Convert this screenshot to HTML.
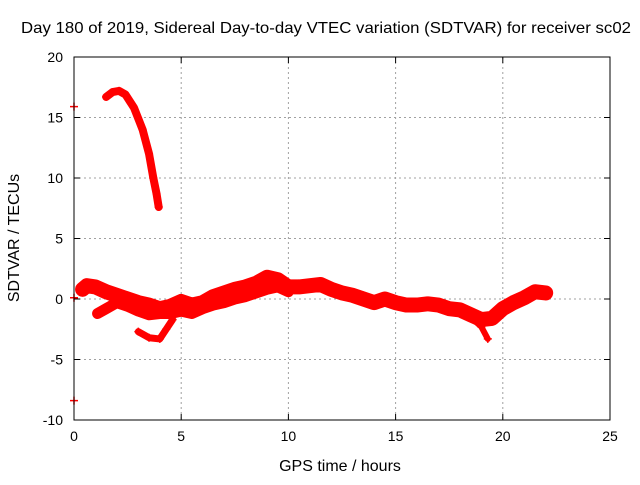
<!DOCTYPE html>
<html><head><meta charset="utf-8">
<style>
body{margin:0;background:#fff;width:640px;height:480px;overflow:hidden}
svg{font-family:"Liberation Sans",sans-serif;font-size:14px}
</style></head>
<body>
<svg id="chart" width="640" height="480">
<text x="326" y="33" text-anchor="middle" font-size="16" textLength="610" lengthAdjust="spacingAndGlyphs">Day 180 of 2019, Sidereal Day-to-day VTEC variation (SDTVAR) for receiver sc02</text>
<text x="340" y="471" text-anchor="middle" font-size="16">GPS time / hours</text>
<text transform="translate(19,238) rotate(-90)" text-anchor="middle" font-size="16">SDTVAR / TECUs</text>
<g id="grid"></g><g id="marks"></g><g id="axes"></g>
</svg>
<script>
const xTicks=[0,5,10,15,20,25];
const yTicks=[-10,-5,0,5,10,15,20];
const arcX=[1.5,1.8,2.1,2.4,2.8,3.2,3.5,3.7,3.85,3.95];
const arcY=[16.7,17.1,17.2,16.9,15.8,14,12,10,8.7,7.6];
const upperX=[0.4,0.6,1,1.5,2,2.5,3,3.5,4,4.5,5,5.5,6,6.5,7,7.5,8,8.5,9,9.5,10,10.5,11,11.5,12,12.5,13,13.5,14,14.5,15,15.5,16,16.5,17,17.5,18,18.5,19,19.5,20,20.5,21,21.5,22];
const upperY=[0.8,1.1,1,0.6,0.3,0,-0.3,-0.5,-0.8,-0.6,-0.2,-0.5,-0.3,0.2,0.5,0.8,1,1.3,1.8,1.6,1,1,1.1,1.2,0.8,0.5,0.3,0,-0.3,0,-0.3,-0.5,-0.5,-0.4,-0.5,-0.8,-0.9,-1.3,-1.7,-1.6,-0.8,-0.3,0.1,0.6,0.5];
const lowerX=[1.1,1.5,2,2.5,3,3.5,4,4.5,5,5.5,6,6.5,7,7.5,8,8.5,9,9.5,10];
const lowerY=[-1.2,-0.8,-0.3,-0.6,-1,-1.3,-1.2,-1.2,-1,-1.2,-0.8,-0.5,-0.3,0,0.2,0.5,0.8,1,0.6];
const dipX=[3,3.5,4,4.3,4.6];
const dipY=[-2.7,-3.2,-3.3,-2.5,-1.7];
const tailX=[18.5,19,19.3];
const tailY=[-1.5,-2.3,-3.3];
const isoX=[0,0,0];
const isoY=[15.9,-8.4,0.1];
const L=74,R=610,T=57,B=420;
const sx=v=>L+(v-0)/(25)*(R-L);
const sy=v=>B-(v+10)/30*(B-T);
const NS="http://www.w3.org/2000/svg";
function mk(tag,attrs,parent){const e=document.createElementNS(NS,tag);for(const k in attrs)e.setAttribute(k,attrs[k]);parent.appendChild(e);return e;}
const grid=document.getElementById('grid'),axes=document.getElementById('axes'),marks=document.getElementById('marks');
xTicks.forEach(t=>{
  if(t>0&&t<25){const g=mk('line',{x1:sx(t),x2:sx(t),y1:T,y2:B,stroke:'#a0a0a0','stroke-dasharray':'2,3'},grid);
  
  }
  mk('line',{x1:sx(t),x2:sx(t),y1:B,y2:B-6,stroke:'#000'},axes);
  mk('line',{x1:sx(t),x2:sx(t),y1:T,y2:T+6,stroke:'#000'},axes);
  const tx=mk('text',{x:sx(t),y:B+21,'text-anchor':'middle'},axes);tx.textContent=t;
  
  
});
yTicks.forEach(t=>{
  if(t>-10&&t<20){const g=mk('line',{x1:L,x2:R,y1:sy(t),y2:sy(t),stroke:'#a0a0a0','stroke-dasharray':'2,3'},grid);
  
  }
  mk('line',{x1:L,x2:L+6,y1:sy(t),y2:sy(t),stroke:'#000'},axes);
  mk('line',{x1:R,x2:R-6,y1:sy(t),y2:sy(t),stroke:'#000'},axes);
  const tx=mk('text',{x:L-11,y:sy(t)+5,'text-anchor':'end'},axes);tx.textContent=t;
  
  
});
const frame=mk('rect',{x:L,y:T,width:R-L,height:B-T,fill:'none',stroke:'#000'},axes);


function band(xs,ys,w,name){
  const pts=xs.map((x,i)=>sx(x)+','+sy(ys[i])).join(' ');
  const p=mk('polyline',{points:pts,fill:'none',stroke:'#ff0000','stroke-width':w,'stroke-linejoin':'round','stroke-linecap':'round'},marks);
  
  
  xs.forEach((x,i)=>plus(x,ys[i],name+'-point'));
}
function plus(x,y,name){
  const cx=sx(x),cy=sy(y);
  const p=mk('path',{d:`M${cx-4},${cy}H${cx+4}M${cx},${cy-4}V${cy+4}`,stroke:'#ff0000','stroke-width':1.5},marks);
  
  
}
band(arcX,arcY,8,'arc-series');
band(upperX,upperY,15,'upper-band-series');
band(lowerX,lowerY,11,'lower-band-series');
band(dipX,dipY,7,'dip-series');
band(tailX,tailY,6,'tail-series');
isoX.forEach((x,i)=>plus(x,isoY[i],'isolated-point'));
</script>
</body></html>
